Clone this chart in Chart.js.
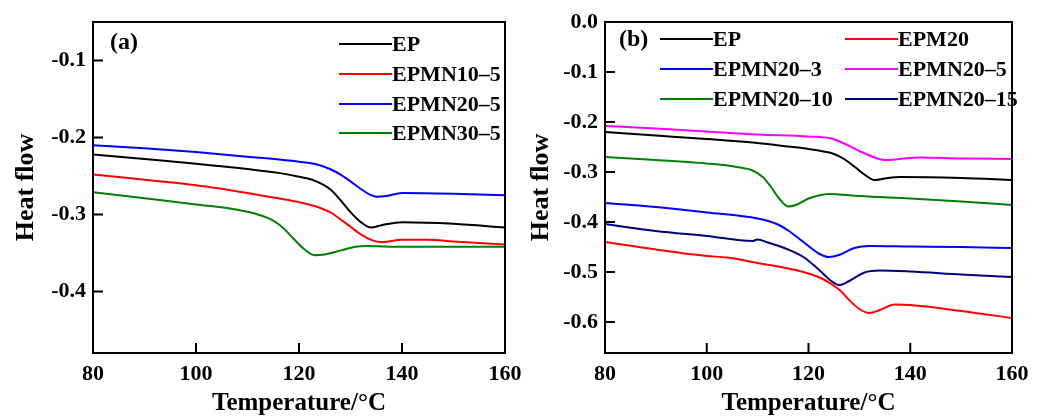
<!DOCTYPE html>
<html>
<head>
<meta charset="utf-8">
<script src="https://cdn.jsdelivr.net/npm/chart.js@4"></script>
<style>
  html, body { margin: 0; padding: 0; background: #fff; }
  #wrap { position: relative; width: 1059px; height: 419px; overflow: hidden; }
  #boxA { position: absolute; left: 0; top: 0; width: 530px; height: 419px; }
  #boxB { position: absolute; left: 520px; top: 0; width: 539px; height: 419px; }
</style>
</head>
<body>
<div id="wrap">
  <div id="boxA"><canvas id="chartA" width="530" height="419"></canvas></div>
  <div id="boxB"><canvas id="chartB" width="539" height="419"></canvas></div>
</div>
<script>
// panel (a)
const tA_EP = [80, 90, 100, 110, 116, 120, 123, 126, 128, 130, 132, 134, 136, 140, 150, 160];
const hA_EP = [-0.222, -0.228, -0.234, -0.241, -0.246, -0.251, -0.256, -0.267, -0.281, -0.297, -0.310, -0.317, -0.314, -0.310, -0.312, -0.317];
const tA_10 = [80, 90, 100, 110, 116, 120, 123, 126, 128, 130, 132, 134, 136, 140, 145, 150, 160];
const hA_10 = [-0.248, -0.255, -0.262, -0.272, -0.279, -0.284, -0.289, -0.297, -0.306, -0.316, -0.326, -0.333, -0.336, -0.333, -0.333, -0.335, -0.339];
const tA_20 = [80, 90, 100, 110, 118, 124, 126, 128, 130, 132, 134, 135, 137, 140, 150, 160];
const hA_20 = [-0.210, -0.214, -0.219, -0.225, -0.230, -0.236, -0.241, -0.248, -0.257, -0.267, -0.275, -0.277, -0.276, -0.272, -0.273, -0.275];
const tA_30 = [80, 90, 100, 108, 112, 115, 117, 119, 121, 123, 125, 128, 131, 133, 140, 150, 160];
const hA_30 = [-0.271, -0.279, -0.287, -0.294, -0.300, -0.308, -0.318, -0.332, -0.345, -0.353, -0.352, -0.347, -0.342, -0.341, -0.342, -0.342, -0.342];

// panel (b)
const tB_EP = [80, 90, 100, 110, 116, 120, 123, 125, 127, 129, 131, 133, 135, 138, 150, 160];
const hB_EP = [-0.220, -0.227, -0.234, -0.242, -0.249, -0.254, -0.259, -0.264, -0.274, -0.289, -0.305, -0.316, -0.313, -0.310, -0.312, -0.316];
const tB_M20 = [80, 90, 100, 104, 110, 116, 120, 123, 126, 128, 130, 132, 134, 137, 140, 150, 160];
const hB_M20 = [-0.440, -0.455, -0.468, -0.471, -0.482, -0.493, -0.503, -0.515, -0.535, -0.556, -0.574, -0.582, -0.576, -0.565, -0.566, -0.578, -0.592];
const tB_3 = [80, 90, 100, 110, 114, 116, 118, 120, 122, 124, 126, 129, 132, 140, 150, 160];
const hB_3 = [-0.362, -0.370, -0.381, -0.393, -0.405, -0.417, -0.432, -0.448, -0.463, -0.470, -0.466, -0.452, -0.448, -0.449, -0.450, -0.452];
const tB_5 = [80, 90, 100, 110, 120, 124.5, 127, 130, 133, 135, 137, 142, 150, 160];
const hB_5 = [-0.208, -0.213, -0.219, -0.225, -0.229, -0.233, -0.243, -0.258, -0.271, -0.276, -0.275, -0.271, -0.273, -0.274];
const tB_10 = [80, 90, 100, 106, 109, 111, 112.5, 114, 116, 117.5, 120, 122, 124, 126, 130, 140, 150, 160];
const hB_10 = [-0.270, -0.276, -0.283, -0.290, -0.297, -0.310, -0.328, -0.350, -0.369, -0.366, -0.353, -0.347, -0.344, -0.345, -0.348, -0.353, -0.359, -0.366];
const tB_15 = [80, 90, 100, 109, 110, 112, 116, 119, 122, 124.5, 126, 128, 131, 134, 140, 150, 160];
const hB_15 = [-0.404, -0.418, -0.428, -0.438, -0.435, -0.441, -0.455, -0.470, -0.495, -0.518, -0.526, -0.518, -0.501, -0.497, -0.499, -0.505, -0.510];

const xTicks = [80, 100, 120, 140, 160];

const FONT = "'Liberation Serif', 'Times New Roman', serif";

function pts(t, h) {
  return t.map((x, i) => ({ x: x, y: h[i] }));
}

function line(label, t, h, color) {
  return {
    label: label,
    data: pts(t, h),
    borderColor: color,
    backgroundColor: color,
    borderWidth: 2,
    pointRadius: 0,
    cubicInterpolationMode: "monotone",
    fill: false,
  };
}

// frame, inward ticks, panel letter and legend
const decor = {
  id: "decor",
  afterDraw(chart, args, opts) {
    const ctx = chart.ctx;
    const a = chart.chartArea;
    ctx.save();
    ctx.strokeStyle = "#000";
    ctx.lineWidth = 2;
    ctx.strokeRect(a.left, a.top, a.right - a.left, a.bottom - a.top);

    ctx.beginPath();
    chart.scales.x.ticks.forEach((t, i) => {
      const px = chart.scales.x.getPixelForTick(i);
      ctx.moveTo(px, a.bottom);
      ctx.lineTo(px, a.bottom - 10);
    });
    chart.scales.y.ticks.forEach((t, i) => {
      const py = chart.scales.y.getPixelForTick(i);
      ctx.moveTo(a.left, py);
      ctx.lineTo(a.left + 10, py);
    });
    ctx.stroke();

    ctx.fillStyle = "#000";
    ctx.font = "bold 24px " + FONT;
    ctx.textBaseline = "middle";
    ctx.textAlign = "left";
    ctx.fillText(opts.tag, opts.tagX, opts.tagY);

    ctx.font = "bold 22px " + FONT;
    opts.items.forEach((it) => {
      const ds = chart.data.datasets[it.i];
      ctx.strokeStyle = ds.borderColor;
      ctx.beginPath();
      ctx.moveTo(it.x, it.y);
      ctx.lineTo(it.x + 53, it.y);
      ctx.stroke();
      ctx.fillText(ds.label, it.x + 53, it.y + 1);
    });
    ctx.restore();
  },
};

function makeChart(id, datasets, yMin, yMax, yWidth, padRight, decorOpts, titlePad) {
  return new Chart(document.getElementById(id), {
    type: "line",
    data: { datasets: datasets },
    options: {
      responsive: false,
      animation: false,
      devicePixelRatio: 1,
      layout: { padding: { left: 0, top: 22, right: padRight, bottom: 0 } },
      plugins: {
        legend: { display: false },
        tooltip: { enabled: false },
        decor: decorOpts,
      },
      scales: {
        x: {
          type: "linear",
          min: 80,
          max: 160,
          afterBuildTicks: (s) => { s.ticks = xTicks.map((v) => ({ value: v })); },
          afterFit: (s) => { s.height = 66; },
          grid: { display: false, drawTicks: false },
          border: { display: false },
          ticks: {
            padding: 8,
            color: "#000",
            font: { family: FONT, size: 22, weight: "bold" },
          },
          title: {
            display: true,
            text: "Temperature/°C",
            color: "#000",
            padding: { top: 0, bottom: 0 },
            font: { family: FONT, size: 25, weight: "bold" },
          },
        },
        y: {
          min: yMin,
          max: yMax,
          afterFit: (s) => { s.width = yWidth; },
          grid: { display: false, drawTicks: false },
          border: { display: false },
          ticks: {
            stepSize: 0.1,
            includeBounds: false,
            padding: 7,
            color: "#000",
            font: { family: FONT, size: 22, weight: "bold" },
            callback: (v) => (Math.abs(v) < 1e-9 ? "0.0" : v.toFixed(1)),
          },
          title: {
            display: true,
            text: "Heat flow",
            color: "#000",
            padding: { top: titlePad, bottom: 0 },
            font: { family: FONT, size: 26, weight: "bold" },
          },
        },
      },
    },
    plugins: [decor],
  });
}

const chartA = makeChart(
  "chartA",
  [
    line("EP", tA_EP, hA_EP, "#000000"),
    line("EPMN10–5", tA_10, hA_10, "#ff0000"),
    line("EPMN20–5", tA_20, hA_20, "#0000ff"),
    line("EPMN30–5", tA_30, hA_30, "#008000"),
  ],
  -0.48, -0.05, 93, 25,
  {
    tag: "(a)", tagX: 110, tagY: 43,
    items: [
      { i: 0, x: 339, y: 44 },
      { i: 1, x: 339, y: 74 },
      { i: 2, x: 339, y: 104 },
      { i: 3, x: 339, y: 133 },
    ],
  },
  11
);

const chartB = makeChart(
  "chartB",
  [
    line("EP", tB_EP, hB_EP, "#000000"),
    line("EPM20", tB_M20, hB_M20, "#ff0000"),
    line("EPMN20–3", tB_3, hB_3, "#0000ff"),
    line("EPMN20–5", tB_5, hB_5, "#ff00ff"),
    line("EPMN20–10", tB_10, hB_10, "#008000"),
    line("EPMN20–15", tB_15, hB_15, "#000080"),
  ],
  -0.662, 0.0, 85, 47,
  {
    tag: "(b)", tagX: 99, tagY: 40,
    items: [
      { i: 0, x: 140, y: 39 },
      { i: 1, x: 325, y: 39 },
      { i: 2, x: 140, y: 69 },
      { i: 3, x: 325, y: 69 },
      { i: 4, x: 140, y: 99 },
      { i: 5, x: 325, y: 99 },
    ],
  },
  6
);
</script>
</body>
</html>
